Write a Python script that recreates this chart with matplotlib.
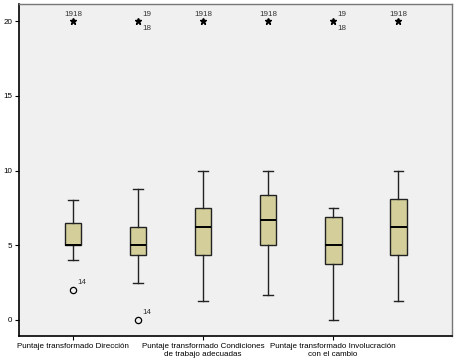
import matplotlib
matplotlib.use("Agg")
import matplotlib.pyplot as plt

plt.rcParams['font.family'] = ['Liberation Sans', 'DejaVu Sans']

categories = ["Dirección", "Dirección B", "Condiciones", "Condiciones B", "Involucración", "Involucración B"]
whislo = [4.0, 2.5, 1.25, 1.67, 0.0, 1.25]
q1 = [5.0, 4.375, 4.375, 5.0, 3.75, 4.375]
med = [5.0, 5.0, 6.25, 6.67, 5.0, 6.25]
q3 = [6.5, 6.25, 7.5, 8.33, 6.875, 8.125]
whishi = [8.0, 8.75, 10.0, 10.0, 7.5, 10.0]
mild_out = [[2.0], [0.0], [], [], [], []]
mild_lbl = [["14"], ["14"], [], [], [], []]
extreme_out = [20.0, 20.0, 20.0, 20.0, 20.0, 20.0]
extreme_lbl = ["1918", "19/18", "1918", "1918", "19/18", "1918"]
tick_pos = [1, 3, 5]
tick_labels = ["Puntaje transformado Dirección",
               "Puntaje transformado Condiciones\nde trabajo adecuadas",
               "Puntaje transformado Involucración\ncon el cambio"]

FS = 5.8

fig = plt.figure(figsize=(4.58, 3.63), dpi=100)
fig.patch.set_facecolor('white')
ax = fig.add_axes([0.0415, 0.0744, 0.9455, 0.9146])
ax.set_facecolor('#f0f0f0')

stats = []
for i in range(len(categories)):
    stats.append(dict(med=med[i], q1=q1[i], q3=q3[i], whislo=whislo[i],
                      whishi=whishi[i], fliers=[], label=categories[i]))
pos = list(range(1, len(categories) + 1))
ax.bxp(stats, positions=pos, widths=0.26, patch_artist=True, showfliers=False,
       boxprops=dict(facecolor='#d4cf9a', edgecolor='#222222', linewidth=1.0),
       medianprops=dict(color='black', linewidth=1.4),
       whiskerprops=dict(color='#222222', linewidth=1.0),
       capprops=dict(color='#222222', linewidth=1.0),
       capwidths=0.14)

for i, p in enumerate(pos):
    for v, lb in zip(mild_out[i], mild_lbl[i]):
        ax.plot([p], [v], marker='o', markersize=4.5, markerfacecolor='none',
                markeredgecolor='black', markeredgewidth=0.9, linestyle='none')
        ax.annotate(lb, (p, v), xytext=(3, 3), textcoords='offset points',
                    fontsize=FS, color='#333333', ha='left', va='bottom')
    v = extreme_out[i]
    ax.plot([p], [v], marker='*', markersize=5, color='black', linestyle='none')
    lb = extreme_lbl[i]
    if '/' in lb:
        a, b = lb.split('/')
        ax.annotate(a, (p, v), xytext=(3, 2.5), textcoords='offset points',
                    fontsize=FS, color='#333333', ha='left', va='bottom')
        ax.annotate(b, (p, v), xytext=(3, -2.5), textcoords='offset points',
                    fontsize=FS, color='#333333', ha='left', va='top')
    else:
        ax.annotate(lb, (p, v), xytext=(0, 2.5), textcoords='offset points',
                    fontsize=FS, color='#333333', ha='center', va='bottom')

ax.set_xlim(0.17, 6.83)
ax.set_ylim(-1.07, 21.14)
ax.set_yticks([0, 5, 10, 15, 20])
ax.set_yticklabels(['0', '5', '10', '15', '20'], fontsize=FS)
ax.set_xticks(tick_pos)
ax.set_xticklabels(tick_labels, fontsize=FS)
ax.tick_params(axis='both', length=3, width=0.8, pad=2, color='black')
for s in ['left', 'bottom']:
    ax.spines[s].set_color('black')
    ax.spines[s].set_linewidth(1.2)
for s in ['top', 'right']:
    ax.spines[s].set_color('#777777')
    ax.spines[s].set_linewidth(1.0)

fig.savefig('out.png', dpi=100, facecolor='white')
